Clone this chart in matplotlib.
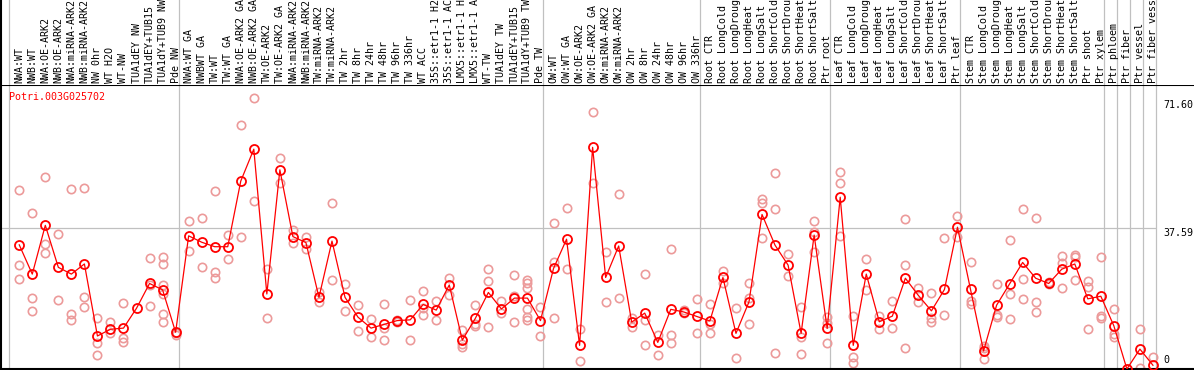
import matplotlib
matplotlib.use("Agg")
import matplotlib.pyplot as plt

conditions = [
    "NWA:WT", "NWB:WT", "NWA:OE-ARK2", "NWB:OE-ARK2", "NWA:miRNA-ARK2", "NWB:miRNA-ARK2",
    "NW 0hr", "WT H2O", "WT-NW", "TUA1dEY NW", "TUA1dEY+TUB15", "TUA1dY+TUB9 NW", "Pde NW",
    "NWA:WT GA", "NWBWT GA", "TW:WT", "TW:WT GA", "NWA:OE-ARK2 GA", "NWB:OE-ARK2 GA",
    "TW:OE-ARK2", "TW:OE-ARK2 GA", "NWA:miRNA-ARK2", "NWB:miRNA-ARK2", "TW:miRNA-ARK2",
    "TW:miRNA-ARK2", "TW 2hr", "TW 8hr", "TW 24hr", "TW 48hr", "TW 96hr", "TW 336hr",
    "WT ACC", "35S::etr1-1 H2", "35S::etr1-1 AC", "LMX5::etr1-1 H", "LMX5::etr1-1 A",
    "WT-TW", "TUA1dEY TW", "TUA1dEY+TUB15", "TUA1dY+TUB9 TW", "Pde TW",
    "OW:WT", "OW:WT GA", "OW:OE-ARK2", "OW:OE-ARK2 GA", "OW:miRNA-ARK2", "OW:miRNA-ARK2",
    "OW 2hr", "OW 8hr", "OW 24hr", "OW 48hr", "OW 96hr", "OW 336hr",
    "Root CTR", "Root LongCold", "Root LongDroug", "Root LongHeat", "Root LongSalt",
    "Root ShortCold", "Root ShortDrou", "Root ShortHeat", "Root ShortSalt", "Ptr root",
    "Leaf CTR", "Leaf LongCold", "Leaf LongDroug", "Leaf LongHeat", "Leaf LongSalt",
    "Leaf ShortCold", "Leaf ShortDrou", "Leaf ShortHeat", "Leaf ShortSalt", "Ptr leaf",
    "Stem CTR", "Stem LongCold", "Stem LongDroug", "Stem LongHeat", "Stem LongSalt",
    "Stem ShortCold", "Stem ShortDrou", "Stem ShortHeat", "Stem ShortSalt", "Ptr shoot",
    "Ptr xylem", "Ptr phloem", "Ptr fiber", "Ptr vessel", "Ptr fiber vessel",
]

means = [
    33.1, 25.3, 38.3, 27.1, 25.3, 28.0, 8.8, 10.6, 10.9, 16.2, 22.8, 21.1, 9.8,
    35.5, 33.8, 32.6, 32.6, 50.1, 58.6, 20.0, 53.1, 35.3, 33.7, 19.1, 34.1, 19.1,
    13.8, 10.9, 11.9, 12.9, 13.1, 17.2, 15.7, 22.4, 7.7, 13.5, 20.4, 16.0, 18.9,
    18.9, 12.9,
    26.8, 34.6, 6.3, 59.1, 24.4, 32.8, 12.5, 14.9, 7.1, 15.9, 15.2, 14.0,
    12.8, 24.4, 9.5, 17.9, 41.2, 33.0, 27.7, 9.5, 35.7, 10.8,
    45.8, 6.3, 25.3, 12.6, 14.1, 24.2, 19.6, 15.5, 21.2, 37.8,
    21.2, 4.8, 17.0, 22.7, 28.4, 24.2, 22.8, 26.6, 28.0, 18.7, 19.4,
    11.5, 0.0, 5.3, 1.0,
]

replicates = [
    [47.7, 27.6, 23.9], [41.5, 18.8, 15.5], [51.1, 33.2, 30.8], [36.0, 18.3],
    [47.9, 14.7, 13.1], [48.2, 19.3, 16.4], [13.5, 6.9, 3.6], [12.4, 9.7],
    [17.5, 8.2, 7.1], [], [29.6, 22.4, 16.7], [29.9, 28.0, 22.4, 19.9, 14.7, 12.4],
    [9.5, 9.1],
    [39.5, 31.4], [40.3, 27.2], [47.5, 25.9, 24.2], [35.7, 29.3], [65.0, 35.2],
    [72.2, 44.8], [26.7, 13.5], [56.2, 49.7], [37.1, 33.5], [35.2, 31.9],
    [20.6, 17.9], [44.2, 23.6], [22.7, 15.5], [17.1, 10.0], [13.3, 8.4],
    [17.3, 10.9, 7.7], [13.0, 12.4], [18.4, 7.7], [20.8, 16.2, 14.3], [18.1, 13.1],
    [24.2, 19.7], [10.4, 6.6, 5.8], [17.1, 11.9, 11.5], [26.6, 23.5, 11.1],
    [18.1, 14.8], [25.1, 19.5, 12.4], [23.7, 23.0, 21.5, 15.9, 13.9, 13.1],
    [16.4, 8.8],
    [38.8, 28.5, 13.5], [42.8, 26.6], [10.7, 2.1], [68.4, 49.5], [31.1, 17.9],
    [46.6, 18.8], [13.5, 11.1], [25.2, 13.1, 6.3], [9.1, 3.6], [32.0, 9.0, 6.9],
    [15.6, 14.8], [18.7, 9.5],
    [17.3, 11.9, 9.5], [26.1, 22.8], [16.2, 2.8], [22.8, 18.8, 11.9],
    [45.2, 44.2, 34.8], [52.2, 42.7, 4.2], [30.6, 24.8], [16.4, 8.4, 3.9],
    [39.5, 36.6, 31.1], [13.8, 12.2, 6.9],
    [52.5, 49.5, 35.5], [14.1, 3.3, 1.7], [29.3, 21.0], [14.2, 10.7], [18.1, 10.8],
    [39.9, 27.6, 5.5], [21.5, 17.9], [20.2, 13.5, 12.6], [34.8, 14.3], [40.7, 35.3],
    [28.4, 18.2, 17.3], [6.1, 5.5, 2.6], [22.6, 14.3, 13.9], [34.3, 19.9, 13.2],
    [42.6, 23.9, 18.6], [40.3, 17.8, 15.2], [23.1, 22.6], [30.1, 28.3, 21.5],
    [30.4, 29.9, 23.6], [23.5, 21.8, 10.7], [29.8, 14.2, 13.6],
    [15.9, 9.3, 8.6], [], [10.6, 0.2], [3.2],
]

# last column of each group
group_ends = [-1, 12, 40, 52, 62, 72, 83, 84, 85, 86, 87]
gene = "Potri.003G025702"
max_val = 71.60
mid_val = 37.59

W, H = 1194, 370
MONO = "DejaVu Sans Mono"
GRID = "#c0c0c0"
REP = "#ec9a9a"

fig = plt.figure(figsize=(W / 100, H / 100), dpi=100)
ax = fig.add_axes([1 / W, 1 / H, 1193 / W, 284 / H])
hdr = fig.add_axes([1 / W, 285 / H, 1193 / W, 85 / H])

x_lo, x_hi = -1.40, 90.15
for a in (ax, hdr):
    a.set_xlim(x_lo, x_hi)
    a.set_xticks([])
    a.set_yticks([])
    for side in ("right", "bottom", "top"):
        a.spines[side].set_visible(False)
    a.spines["left"].set_color("black")
    a.spines["left"].set_linewidth(1.5)
    for e in group_ends:
        a.axvline(e + 0.23, color=GRID, lw=0.9, zorder=0)

ax.set_ylim(0, 75.71)
ax.spines["bottom"].set_visible(True)
ax.spines["top"].set_visible(True)
ax.spines["bottom"].set_linewidth(1.5)
ax.spines["top"].set_linewidth(1.5)
ax.hlines(mid_val, x_lo, group_ends[-1] + 0.23, color=GRID, lw=0.9, zorder=0)

hdr.set_ylim(0, 1)
for i, name in enumerate(conditions):
    hdr.text(i, 0.025, name, rotation=90, ha="center", va="bottom",
             fontsize=7.2, family=MONO, clip_on=False)

xs = list(range(len(means)))
rx, ry = [], []
for i, vals in enumerate(replicates):
    rx += [i] * len(vals)
    ry += vals
ax.plot(rx, ry, ls="none", marker="o", ms=6, mfc="none", mec=REP, mew=1.2, zorder=2)
ax.plot(xs, means, color="red", lw=0.9, marker="o", ms=6.5, mfc="none", mec="red",
        mew=1.3, zorder=3)

ax.text(0.0071, 0.975, gene, transform=ax.transAxes, color="red", ha="left", va="top",
        fontsize=7.2, family=MONO)

ylab = ax.get_yaxis_transform()
ax.text(0.974, max_val, f"{max_val:.2f}", transform=ylab, va="top", ha="left",
        fontsize=7.2, family=MONO)
ax.text(0.974, mid_val, f"{mid_val:.2f}", transform=ylab, va="top", ha="left",
        fontsize=7.2, family=MONO)
ax.annotate("0", xy=(0.974, 0), xycoords=ylab, xytext=(0, 4), textcoords="offset pixels",
            va="bottom", ha="left", fontsize=7.2, family=MONO)

fig.savefig("out.png", dpi=100)
